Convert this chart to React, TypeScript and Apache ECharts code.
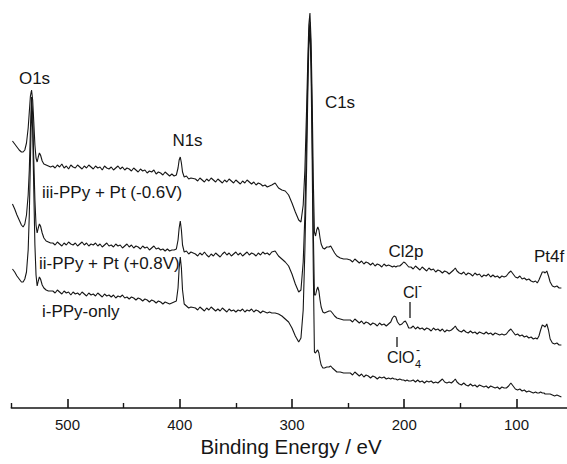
import React, { useEffect, useRef } from "react";
import * as echarts from "echarts";

// Binding energy (eV) sampling points shared by the three spectra
const energy = [
  549, 547, 545, 543, 541, 539.5, 538, 536.5, 535, 534, 533, 532, 531, 530, 529, 528, 527, 526, 525, 524, 522.5, 521, 519, 517, 515,
  513, 511, 509, 507, 505, 503, 501, 499, 497, 495, 493, 491, 489, 487, 485, 483, 481, 479, 477, 475, 473, 471, 469, 467, 465, 463, 461, 459, 457, 455,
  453, 451, 449, 447, 445, 443, 441, 439, 437, 435, 433, 431, 429, 427, 425, 423, 421, 419, 417, 415, 413, 411, 409, 407,
  405, 403, 401.5, 400.5, 399.5, 398.5, 397.5, 396, 394, 392, 390,
  386, 384, 382, 380, 378, 376, 374, 372, 370, 368, 366, 364, 362, 360, 358, 356, 354, 352, 350, 348, 346, 344, 342, 340, 338, 336, 334, 332, 330, 328, 326, 324, 322, 320, 318,
  315, 312, 309, 306, 303, 300, 297, 294, 292, 290, 288.5, 287, 286, 285, 284, 283, 282, 281, 280, 279, 278, 277, 276, 275, 274, 272.5, 271, 269, 267, 265.5, 264, 262, 260, 257, 254, 251,
  248, 246, 244, 242, 240, 238, 236, 234, 232, 230, 228, 226, 224, 222, 220, 218, 216, 214,
  212, 210.5, 209, 207.5, 206, 204, 202, 200.5, 199, 197.5, 196,
  194, 192, 190, 188, 186, 184, 182, 180, 178, 176, 174, 172, 170, 168, 166, 164, 162, 160, 158,
  156, 154.5, 153,
  151, 149, 147, 145, 143, 141, 139, 137, 135, 133, 131, 129, 127, 125, 123, 121, 119, 117, 115, 113, 111, 109,
  107, 105, 103,
  101, 99, 97, 95, 93, 91, 89, 87, 85, 83, 81.5,
  80, 78.5, 77, 75.5, 74.5, 73, 71.5,
  70, 68, 66, 64, 62, 60,
];

// iii - PPy + Pt (-0.6V), intensity (offset, a.u.)
const spectrumIII = [
  267, 264, 261, 258, 256, 256, 258, 265, 280, 296, 312, 318, 308, 286, 263, 250, 246, 251, 255, 253, 247, 244, 243, 242, 241,
  242, 240, 243, 241, 244, 240, 242, 239, 243, 241, 240, 243, 241, 239, 242, 240, 243, 241, 239, 242, 240, 241, 238, 242, 240, 239, 241, 238, 240, 242,
  239, 241, 238, 240, 239, 237, 240, 238, 236, 239, 237, 238, 235, 237, 236, 238, 234, 236, 235, 233, 236, 234, 232, 234,
  232, 233, 240, 248, 251, 245, 236, 231, 232, 229, 230,
  229, 227, 230, 228, 226, 229, 227, 230, 228, 226, 229, 227, 225, 228, 226, 229, 227, 225, 228, 226, 224, 227, 225, 228, 226, 224, 226, 223, 225, 224, 222, 223, 221, 222, 223,
  225, 220, 218, 217, 213, 205, 196, 188, 186, 203, 238, 298, 343, 383, 395, 368, 308, 228, 176, 172, 178, 181, 178, 170, 164, 160, 159, 161, 161, 162, 159, 155, 152, 150, 149, 149,
  148, 146, 149, 147, 145, 147, 144, 146, 145, 143, 145, 142, 144, 143, 141, 144, 142, 143,
  142, 141, 142, 141, 142, 142, 144, 146, 145, 143, 141,
  141, 139, 142, 140, 138, 141, 139, 137, 140, 138, 139, 136, 138, 137, 135, 137, 136, 134, 136,
  138, 140, 137,
  135, 134, 136, 133, 135, 134, 132, 135, 133, 134, 131, 133, 132, 134, 131, 133, 131, 132, 130, 132, 131, 132,
  135, 137, 134,
  131, 130, 132, 129, 130, 128, 129, 127, 126, 127, 125,
  128, 132, 136, 136, 135, 137, 132,
  126, 122, 121, 122, 120, 120,
];

// ii - PPy + Pt (+0.8V)
const spectrumII = [
  204, 199, 193, 188, 183, 181, 184, 193, 213, 238, 278, 311, 293, 248, 208, 183, 175, 180, 184, 182, 175, 170, 167, 166, 165,
  165, 163, 166, 164, 162, 165, 163, 166, 164, 163, 165, 162, 164, 166, 163, 165, 162, 164, 163, 165, 162, 164, 161, 163, 165, 162, 163, 161, 164, 162,
  163, 160, 162, 164, 161, 163, 160, 162, 161, 159, 162, 160, 161, 158, 160, 162, 159, 160, 158, 159, 157, 159, 157, 158,
  158, 159, 168, 180, 187, 178, 163, 156, 157, 154, 156,
  154, 152, 155, 153, 156, 153, 151, 154, 152, 155, 153, 151, 154, 156, 153, 155, 152, 154, 156, 153, 155, 152, 154, 156, 153, 155, 154, 152, 155, 153, 156, 154, 155, 153, 156,
  157, 152, 149, 146, 142, 134, 124, 116, 118, 146, 193, 268, 328, 373, 386, 353, 278, 178, 113, 113, 118, 121, 117, 108, 101, 96, 95, 96, 97, 97, 95, 92, 90, 89, 88, 88,
  88, 86, 89, 87, 85, 87, 84, 86, 85, 83, 85, 84, 82, 85, 83, 84, 82, 84,
  86, 90, 92, 91, 86, 83, 84, 86, 87, 84, 80,
  80, 82, 79, 81, 79, 80, 78, 80, 79, 77, 80, 78, 79, 77, 79, 76, 78, 77, 78,
  80, 82, 79,
  77, 76, 78, 76, 75, 77, 75, 76, 74, 76, 75, 74, 76, 74, 75, 73, 75, 74, 73, 74, 73, 74,
  77, 79, 76,
  73, 74, 72, 73, 71, 72, 70, 71, 69, 70, 69,
  72, 78, 83, 82, 81, 84, 78,
  69, 65, 64, 65, 63, 63,
];

// i - PPy-only
const spectrumI = [
  139, 136, 132, 129, 126, 126, 129, 136, 158, 193, 248, 302, 278, 218, 163, 133, 122, 127, 131, 129, 123, 120, 118, 117, 117,
  117, 115, 118, 116, 114, 117, 115, 116, 113, 116, 114, 115, 113, 116, 114, 112, 115, 113, 114, 112, 115, 113, 111, 114, 112, 113, 111, 113, 110, 112,
  111, 113, 110, 111, 109, 111, 110, 108, 110, 109, 107, 109, 108, 106, 108, 107, 105, 107, 106, 104, 106, 105, 104, 105,
  106, 107, 120, 140, 151, 140, 118, 104, 102, 100, 101,
  100, 98, 101, 99, 97, 100, 98, 101, 99, 97, 99, 97, 100, 98, 96, 99, 97, 98, 96, 98, 97, 99, 96, 98, 97, 99, 96, 98, 97, 95, 97, 96, 95, 96, 95,
  95, 94, 92, 89, 86, 80, 72, 66, 70, 98, 158, 238, 308, 363, 378, 338, 248, 138, 56, 55, 57, 58, 55, 48, 43, 40, 40, 41, 41, 42, 40, 38, 36, 36, 35, 35,
  35, 33, 36, 34, 32, 34, 31, 33, 32, 30, 32, 31, 29, 31, 30, 31, 29, 30,
  29, 30, 29, 29, 28, 29, 28, 28, 27, 28, 27,
  27, 28, 26, 28, 26, 27, 25, 27, 26, 27, 25, 26, 25, 27, 29, 26, 25, 26, 25,
  27, 29, 26,
  24, 23, 25, 23, 22, 24, 22, 23, 21, 23, 22, 21, 22, 20, 22, 21, 20, 21, 19, 21, 20, 20,
  22, 25, 22,
  19, 18, 19, 17, 18, 16, 17, 16, 15, 16, 15,
  15, 16, 15, 15, 14, 14, 14,
  14, 13, 12, 13, 12, 11,
];

const majorTicks = [100, 200, 300, 400, 500];
const minorTicks = [150, 250, 350, 450, 550];
const seriesNames = ["iii-PPy + Pt (-0.6V)", "ii-PPy + Pt (+0.8V)", "i-PPy-only"];

const FONT = "'Liberation Sans', Arial, Helvetica, sans-serif";
const INK = "#161616";

function zip(vals: number[]) {
  return energy.map((e, i) => [e, vals[i]]);
}

export default function App() {
  const ref = useRef<HTMLDivElement>(null);
  useEffect(() => {
    if (!ref.current) return;
    const chart = echarts.init(ref.current, undefined, { renderer: "svg" });
    const xMin = 55;
    const xMax = 550;
    const pxPerEv = 1.1333;
    const left = 68 - (xMax - 500) * pxPerEv;
    const width = (xMax - xMin) * pxPerEv;
    const txt = (text: string, x: number, y: number, size: number, align = "center") => ({
      type: "text",
      x,
      y,
      silent: true,
      style: {
        text,
        fill: INK,
        font: `${size}px ${FONT}`,
        align,
        verticalAlign: "middle",
      },
    });
    const vline = (x: number, y1: number, y2: number) => ({
      type: "line",
      silent: true,
      shape: { x1: x, y1, x2: x, y2 },
      style: { stroke: INK, lineWidth: 1.3 },
    });
    const lineSeries = (name: string, vals: number[]) => ({
      name,
      type: "line",
      data: zip(vals),
      showSymbol: false,
      symbol: "none",
      silent: true,
      lineStyle: { color: INK, width: 1.1 },
      xAxisIndex: 0,
      yAxisIndex: 0,
    });
    chart.setOption({
      animation: false,
      backgroundColor: "#ffffff",
      grid: { left, width, top: 8, height: 400 },
      xAxis: [
        {
          type: "value",
          inverse: true,
          min: xMin,
          max: xMax,
          position: "bottom",
          axisLine: { show: true, lineStyle: { color: INK, width: 1.6 } },
          axisTick: {
            show: true,
            inside: true,
            length: 9,
            customValues: majorTicks,
            lineStyle: { color: INK, width: 1.6 },
          },
          axisLabel: {
            show: true,
            customValues: majorTicks,
            margin: 9,
            color: INK,
            fontSize: 15,
            fontFamily: FONT,
          },
          splitLine: { show: false },
        },
        {
          type: "value",
          inverse: true,
          min: xMin,
          max: xMax,
          position: "bottom",
          axisLine: { show: false },
          axisTick: {
            show: true,
            inside: true,
            length: 5,
            customValues: minorTicks,
            lineStyle: { color: INK, width: 1.4 },
          },
          axisLabel: { show: false },
          splitLine: { show: false },
        },
      ],
      yAxis: { type: "value", show: false, min: 0, max: 400 },
      series: [
        lineSeries(seriesNames[0], spectrumIII),
        lineSeries(seriesNames[1], spectrumII),
        lineSeries(seriesNames[2], spectrumI),
      ],
      graphic: [
        txt("O1s", 34.5, 78, 17),
        txt("N1s", 187.5, 140, 17),
        txt("C1s", 340, 102, 17),
        txt("Cl2p", 406, 251, 17),
        txt("Pt4f", 549, 256, 17),
        txt(seriesNames[0], 42, 192, 17, "left"),
        txt(seriesNames[1], 39, 263, 17, "left"),
        txt(seriesNames[2], 42, 311, 17, "left"),
        txt("Cl", 403, 292, 16, "left"),
        txt("-", 418, 286, 12, "left"),
        vline(410, 302, 318),
        vline(397, 337, 347),
        txt("ClO", 387, 357, 16, "left"),
        txt("4", 415, 364, 11, "left"),
        txt("-", 416, 350, 12, "left"),
        txt("Binding Energy / eV", 291, 446, 20.5),
      ],
    });
    return () => chart.dispose();
  }, []);
  return (
    <div
      ref={ref}
      style={{ position: "absolute", left: 0, top: 0, width: 567, height: 464, background: "#fff" }}
    />
  );
}
